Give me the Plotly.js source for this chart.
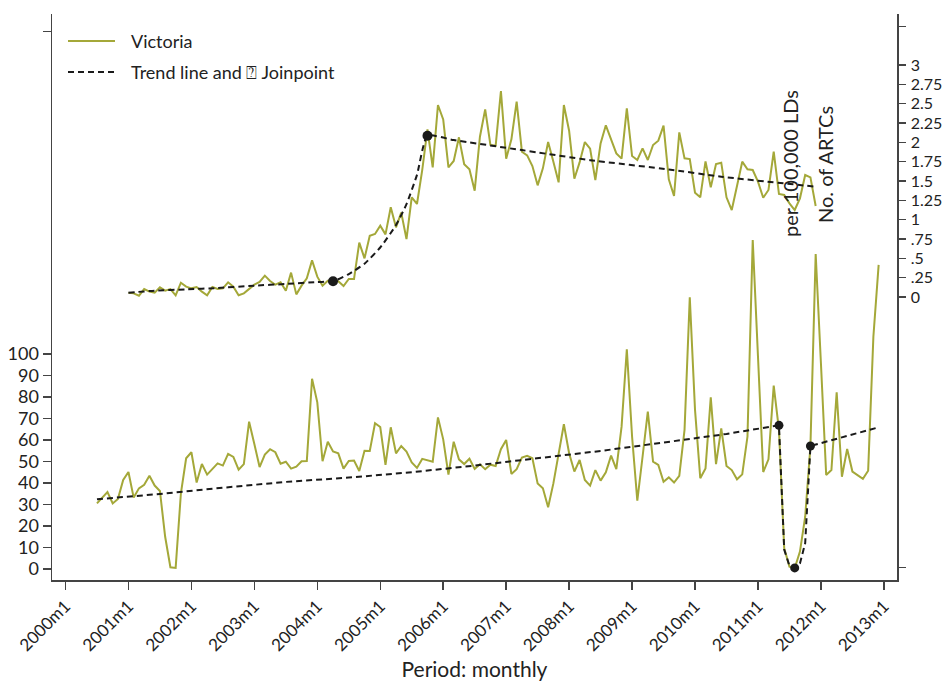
<!DOCTYPE html>
<html>
<head>
<meta charset="utf-8">
<script src="https://cdn.plot.ly/plotly-3.0.1.min.js"></script>
<style>html,body{margin:0;padding:0;background:#fff;}#chart{width:947px;height:681px;}</style>
</head>
<body>
<div id="chart"></div>
<script>
// ---- Data (months counted from 2000m1 = 0) ----
const xTickVals = [0,12,24,36,48,60,72,84,96,108,120,132,144,156];
const xTickText = ["2000m1","2001m1","2002m1","2003m1","2004m1","2005m1","2006m1","2007m1","2008m1","2009m1","2010m1","2011m1","2012m1","2013m1"];

// No. of ARTCs (left axis), 2000m7 .. 2012m12
const artcStart = 6;
const artcValues = [30.5,33.3,35.8,30.5,32.6,41.4,45.1,33.2,37.5,39.2,43.4,38.8,36.3,15.0,0.8,0.5,35.2,51.5,54.3,40.2,
48.8,43.9,46.4,49.1,48.1,53.5,52.1,46.2,48.8,68.5,58.1,47.4,53.2,55.7,54.3,49.0,49.9,46.7,47.6,50.1,
50.2,88.5,77.5,50.1,59.2,54.7,53.8,46.7,50.2,50.4,45.6,55.0,54.9,67.8,66.0,48.4,65.9,53.8,57.2,54.6,
49.6,47.0,51.2,50.4,49.9,70.5,60.3,43.9,59.2,51.0,48.8,51.3,46.5,48.7,46.4,48.5,47.9,55.7,60.0,44.2,
46.4,51.8,52.6,51.5,39.8,37.5,28.7,39.8,53.3,67.3,53.8,45.3,50.7,41.4,38.8,46.0,41.1,45.0,52.7,46.4,
66.2,102.2,61.6,31.8,52.2,73.2,49.9,48.4,40.6,42.6,40.2,43.3,64.7,126.4,74.0,42.2,46.8,79.8,48.8,65.4,
47.9,46.0,41.7,44.0,61.6,153.0,98.8,45.1,51.0,85.3,64.7,9.6,1.1,0.3,8.1,24.3,57.2,146.5,95.7,43.7,
46.0,82.2,42.9,55.8,45.3,43.7,41.9,45.7,108.1,141.4];

// ARTCs per 100,000 LDs (right axis), 2001m1 .. 2011m12
const rateStart = 12;
const rateValues = [0.056,0.047,0.017,0.103,0.069,0.056,0.125,0.082,0.103,0.022,0.185,0.134,0.112,0.129,0.069,0.022,0.129,0.103,0.112,0.190,
0.134,0.022,0.047,0.103,0.159,0.194,0.276,0.207,0.159,0.190,0.082,0.315,0.034,0.147,0.241,0.474,0.263,0.147,0.211,0.211,
0.203,0.142,0.233,0.233,0.703,0.500,0.793,0.815,0.922,0.810,1.160,0.901,1.091,0.750,1.289,1.203,1.642,2.168,1.677,2.483,
2.297,1.677,1.759,2.065,1.716,1.651,1.375,2.073,2.427,1.966,1.957,2.664,1.789,2.039,2.526,1.879,1.832,1.694,1.444,1.664,
2.004,1.750,1.483,2.483,2.151,1.530,1.741,2.004,1.918,1.513,1.987,2.220,2.052,1.858,1.789,2.440,1.823,1.772,1.922,1.772,
1.966,2.022,2.216,1.522,1.306,2.129,1.793,1.784,1.349,1.289,1.754,1.418,1.720,1.737,1.289,1.125,1.435,1.750,1.651,1.642,
1.491,1.284,1.384,1.879,1.332,1.319,1.211,1.125,1.276,1.578,1.547,1.177];

// Trend lines (values at these months)
const artcTrendMonths = [6,18,30,42,54,66,78,90,102,114,126,136,137,138,139,140,141,142,148,155];
const artcTrendValues = [32.4,34.9,37.8,40.5,42.5,45.0,48.1,51.5,54.9,58.8,62.8,66.8,9.0,1.5,0.5,2.6,12.0,57.2,61.2,65.9];
const rateTrendMonths = [12,17,23,29,36,42,48,51,54,57,60,63,65,67,69,74,87,100,115,125,143];
const rateTrendValues = [0.056,0.082,0.099,0.116,0.147,0.168,0.194,0.203,0.297,0.430,0.640,0.930,1.200,1.580,2.086,2.03,1.90,1.77,1.65,1.556,1.427];

// Joinpoints
const artcJoinMonths = [136,139,142];
const artcJoinValues = [66.8,0.5,57.2];
const rateJoinMonths = [51,69];
const rateJoinValues = [0.203,2.086];

const leftTickVals = [0,10,20,30,40,50,60,70,80,90,100,250];
const leftTickText = ["0","10","20","30","40","50","60","70","80","90","100",""];
const rightTickVals = [-3.5,0,0.25,0.5,0.75,1,1.25,1.5,1.75,2,2.25,2.5,2.75,3,3.5];
const rightTickText = ["","0",".25",".5",".75","1","1.25","1.5","1.75","2","2.25","2.5","2.75","3",""];

const legendLabels = ["Victoria", "Trend line and \u2370 Joinpoint"];

// ---- Build ----
const green = "#a4a839";
const dark = "#1a1a1a";
const artcX = artcValues.map((v,i)=>artcStart+i);
const rateX = rateValues.map((v,i)=>rateStart+i);
const FONT = "Lato, 'Open Sans', sans-serif";

const traces = [
  {x: rateX, y: rateValues, yaxis: "y2", type: "scatter", mode: "lines", name: legendLabels[0],
   line: {color: green, width: 2}, showlegend: false},
  {x: artcX, y: artcValues, yaxis: "y", type: "scatter", mode: "lines", name: legendLabels[0],
   line: {color: green, width: 2}, showlegend: false},
  {x: rateTrendMonths, y: rateTrendValues, yaxis: "y2", type: "scatter", mode: "lines",
   name: legendLabels[1], line: {color: dark, width: 2, dash: "6px,4px", shape: "spline", smoothing: 0.5},
   showlegend: false},
  {x: artcTrendMonths, y: artcTrendValues, yaxis: "y", type: "scatter", mode: "lines",
   name: legendLabels[1], line: {color: dark, width: 2, dash: "6px,4px"}, showlegend: false},
  {x: rateJoinMonths, y: rateJoinValues, yaxis: "y2", type: "scatter", mode: "markers",
   marker: {color: dark, size: 10}, showlegend: false},
  {x: artcJoinMonths, y: artcJoinValues, yaxis: "y", type: "scatter", mode: "markers",
   marker: {color: dark, size: 9}, showlegend: false}
];

const axisCommon = {showgrid: false, zeroline: false, showline: true, linecolor: "#444", linewidth: 1.5,
  ticks: "outside", tickcolor: "#444", tickwidth: 1.5, fixedrange: true};

// legend drawn in paper coordinates (px helper)
const L = 52, R = 897, T = 14, B = 580;
const px = v => (v - L) / (R - L);
const py = v => (B - v) / (B - T);

const layout = {
  width: 947, height: 681,
  margin: {l: 52, r: 50, t: 14, b: 101, pad: 0},
  paper_bgcolor: "#fff", plot_bgcolor: "#fff",
  font: {family: FONT, color: "#222", size: 16},
  showlegend: false,
  xaxis: Object.assign({}, axisCommon, {range: [-2.57, 158.5], tickvals: xTickVals, ticktext: xTickText,
    tickangle: -45, ticklen: 8, tickfont: {family: FONT, size: 17, color: "#222"},
    title: {text: "Period: monthly", font: {family: FONT, size: 21, color: "#222"}, standoff: 16}}),
  yaxis: Object.assign({}, axisCommon, {range: [-5.12, 258.1], tickvals: leftTickVals, ticktext: leftTickText,
    ticklen: 8, tickfont: {family: FONT, size: 18, color: "#222"}}),
  yaxis2: Object.assign({}, axisCommon, {range: [-3.66, 3.66], overlaying: "y", side: "right",
    tickvals: rightTickVals, ticktext: rightTickText, ticklen: 7, ticklabelstandoff: 2,
    tickfont: {family: FONT, size: 16, color: "#222"}}),
  shapes: [
    {type: "line", xref: "paper", yref: "paper", x0: px(68), x1: px(115), y0: py(41), y1: py(41),
     line: {color: green, width: 2}},
    {type: "line", xref: "paper", yref: "paper", x0: px(68), x1: px(115), y0: py(72), y1: py(72),
     line: {color: dark, width: 2, dash: "6px,4px"}}
  ],
  annotations: [
    {text: legendLabels[0], xref: "paper", yref: "paper", x: px(129), y: py(41), xanchor: "left", yanchor: "middle",
     showarrow: false, font: {family: FONT, size: 18, color: "#222"}},
    {text: legendLabels[1], xref: "paper", yref: "paper", x: px(129), y: py(72), xanchor: "left", yanchor: "middle",
     showarrow: false, font: {family: FONT, size: 18, color: "#222"}},
    {text: "per 100,000 LDs", xref: "paper", yref: "paper", x: px(790), y: py(164),
     textangle: -90, showarrow: false, font: {family: FONT, size: 20, color: "#222"}, xanchor: "center", yanchor: "middle"},
    {text: "No. of ARTCs", xref: "paper", yref: "paper", x: px(825), y: py(165),
     textangle: -90, showarrow: false, font: {family: FONT, size: 20, color: "#222"}, xanchor: "center", yanchor: "middle"}
  ]
};

Plotly.newPlot("chart", traces, layout, {staticPlot: true, displayModeBar: false});
</script>
</body>
</html>
